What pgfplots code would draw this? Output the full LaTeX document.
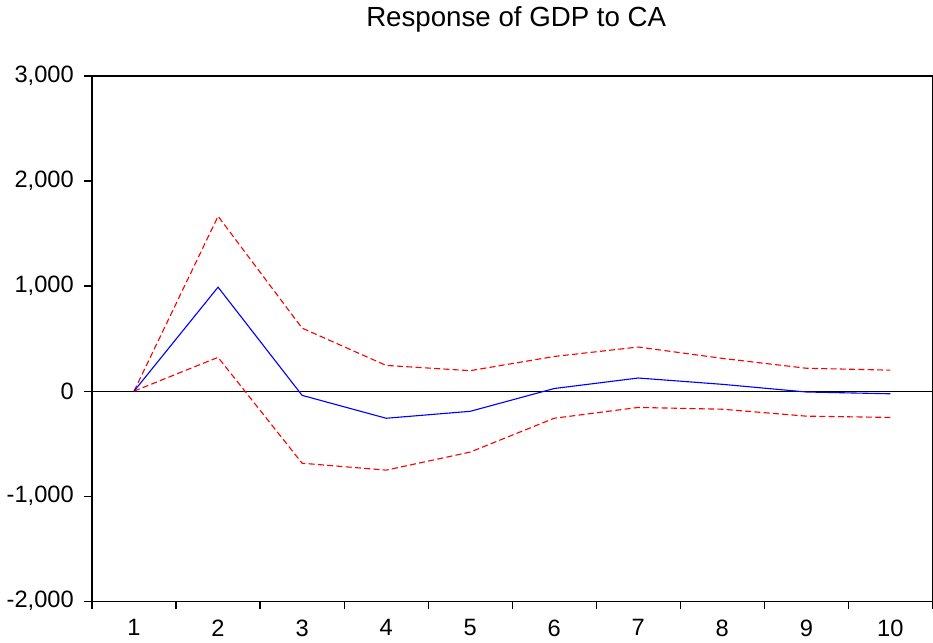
\documentclass[border=0pt]{standalone}
\usepackage{fontspec}
\setmainfont{Liberation Sans}
\usepackage{pgfplots}
\pgfplotsset{compat=1.18}

\begin{document}
\begin{tikzpicture}
\begin{axis}[
    scale only axis,
    width=416pt,
    height=260pt,
    xmin=0.5, xmax=10.5,
    ymin=-2000, ymax=3000,
    xtick={1,...,10},
    major x tick style={draw=none},
    minor xtick={0.5,1.5,...,10.5},
    minor tick length=4pt,
    ytick={-2000,-1000,0,1000,2000,3000},
    major tick length=4pt,
    tick align=outside,
    xtick pos=bottom,
    ytick pos=left,
    axis line style={black, line width=0.6pt},
    tick style={black, line width=0.6pt},
    /pgf/number format/assume math mode=true,
    /pgf/number format/1000 sep={,},
    scaled y ticks=false,
    ticklabel style={font=\fontsize{11.7}{13}\selectfont},
    xticklabel style={yshift=-1.5pt},
    yticklabel style={xshift=-1.5pt},
    title={Response of GDP to CA},
    title style={font=\fontsize{13.7}{16}\selectfont, yshift=12pt, xshift=2pt},
    clip=false,
]
\addplot[black, line width=0.5pt] coordinates {(0.5,0) (10.5,0)};
\addplot[red, line width=0.55pt, dash pattern=on 3pt off 1.6pt] coordinates {
    (1,0) (2,1665) (3,600) (4,245) (5,195) (6,330) (7,420) (8,312) (9,218) (10,200)
};
\addplot[red, line width=0.55pt, dash pattern=on 3pt off 1.6pt] coordinates {
    (1,0) (2,322) (3,-686) (4,-752) (5,-580) (6,-258) (7,-155) (8,-172) (9,-238) (10,-250)
};
\addplot[blue, line width=0.55pt] coordinates {
    (1,0) (2,990) (3,-40) (4,-258) (5,-192) (6,25) (7,125) (8,65) (9,-8) (10,-25)
};
\end{axis}
\end{tikzpicture}
\end{document}
